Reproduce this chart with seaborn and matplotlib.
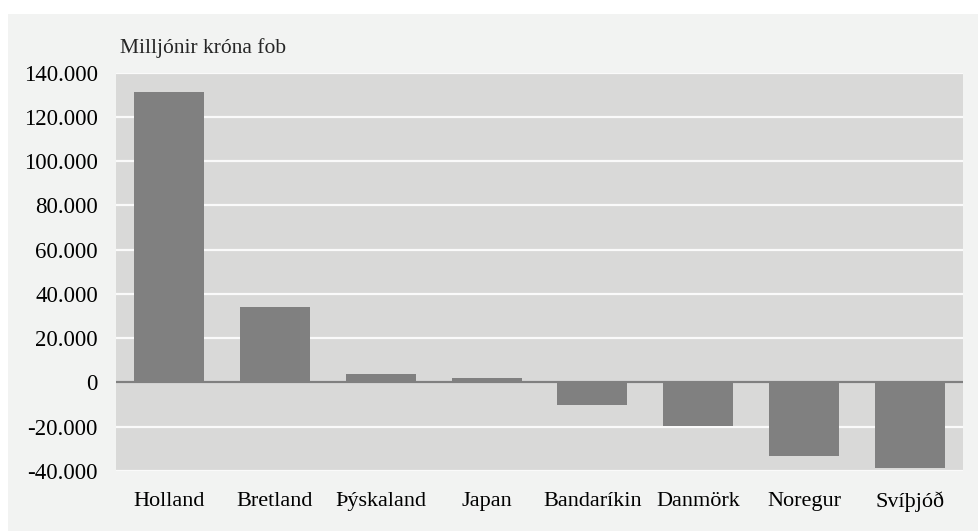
import matplotlib
matplotlib.use("Agg")
import matplotlib.pyplot as plt
import matplotlib.patches as mpatches
from matplotlib.ticker import FuncFormatter, MultipleLocator
import seaborn as sns
import pandas as pd

countries = ["Holland", "Bretland", "Þýskaland", "Japan", "Bandaríkin", "Danmörk", "Noregur", "Svíþjóð"]
values = [131400, 33900, 3900, 2100, -10400, -19600, -33100, -38500]
unit_label = "Milljónir króna fob"

sns.set_style("white")
plt.rcParams["font.family"] = ["Liberation Serif", "DejaVu Serif"]

df = pd.DataFrame({"country": countries, "value": values})

fig = plt.figure(figsize=(9.79, 5.31), dpi=100, facecolor="white")
W, H = 979, 531
fig.patches.append(mpatches.Rectangle((8 / W, 0), 1 - 8 / W, 1 - 14 / H,
                                      transform=fig.transFigure, facecolor="#F2F3F2",
                                      edgecolor="none", zorder=-10))
ax = fig.add_axes([116 / W, 1 - 471 / H, (963 - 116) / W, (471 - 72.5) / H])
ax.set_facecolor("#D9D9D8")

sns.barplot(data=df, x="country", y="value", color="#808080", width=0.66,
            saturation=1, ax=ax, zorder=3, edgecolor="none")

ax.set_ylim(-40000, 140000)
ax.set_xlim(-0.5, len(countries) - 0.5)
ax.yaxis.set_major_locator(MultipleLocator(20000))
ax.yaxis.set_major_formatter(FuncFormatter(lambda v, p: f"{int(v):,}".replace(",", ".")))
ax.grid(axis="y", color="#FAFAFA", linewidth=1.6, zorder=1)
ax.set_axisbelow(True)
ax.axhline(0, color="#808080", linewidth=1.6, zorder=4)
for s in ax.spines.values():
    s.set_visible(False)
ax.tick_params(axis="both", length=0, colors="black")
ax.tick_params(axis="y", pad=13, labelsize=16.5)
ax.tick_params(axis="x", pad=15, labelsize=16)
ax.set_xlabel("")
ax.set_ylabel("")
fig.text(120 / W, 1 - 48 / H, unit_label, fontsize=15.5, ha="left", va="center")

fig.savefig("out.png", dpi=100)
